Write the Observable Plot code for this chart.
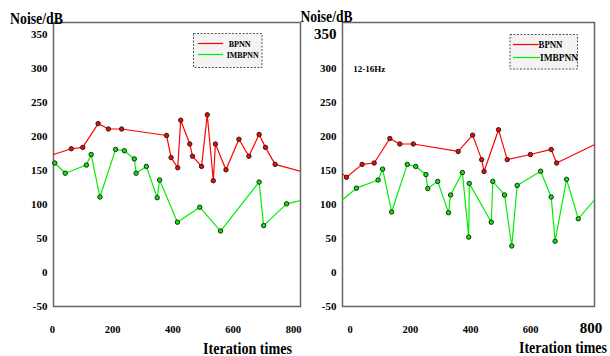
<!DOCTYPE html>
<html>
<head>
<meta charset="utf-8">
<script src="https://cdn.jsdelivr.net/npm/d3@7"></script>
<script src="https://cdn.jsdelivr.net/npm/@observablehq/plot@0.6"></script>
<style>
  html, body { margin: 0; padding: 0; background: #fff; }
  #wrap { position: relative; width: 610px; height: 356px; overflow: hidden; background: #fff; }
  #wrap svg.panel { position: absolute; top: 0; overflow: visible; }
  #overlay { position: absolute; left: 0; top: 0; pointer-events: none; }
</style>
</head>
<body>
<div id="wrap"></div>
<script>
// ---------- data ----------
const xTicks = [0, 200, 400, 600, 800];
const yTicks = [-50, 0, 50, 100, 150, 200, 250, 300, 350];
const seriesNames = ["BPNN", "IMBPNN"];
const seriesColors = ["#ff0000", "#00ee00"];

// left panel
const leftX_BPNN = [4, 63, 101, 152, 186, 230, 379, 394, 416, 426, 456, 465, 495, 514, 534, 541, 576, 619, 652, 686, 707, 739, 823];
const leftY_BPNN = [173.5, 182, 184, 219, 211, 211, 201.5, 169, 154, 224, 189, 171, 156, 232, 135, 189, 151, 196, 171, 203, 184, 159, 149];
const leftX_IMBPNN = [8, 43, 113, 129, 158, 210, 239, 272, 278, 312, 348, 356, 415, 489, 558, 686, 701, 777, 823];
const leftY_IMBPNN = [161, 146, 158, 173.5, 111, 181, 179, 167, 146, 156, 110, 136, 74, 96, 61, 133, 69, 101, 106];

// right panel (12-16Hz)
const rightX_BPNN = [-25, -12, 40, 80, 132, 165, 210, 359, 407, 437, 445, 493, 522, 599, 668, 686, 812];
const rightY_BPNN = [145, 140, 159, 161, 197, 189, 189, 178, 202, 166, 148.5, 210, 166, 173.5, 181, 161, 188];
const rightX_IMBPNN = [-25, 21, 93, 108, 138, 190, 218, 252, 258, 291, 327, 334, 373, 394, 396, 469, 474, 513, 537, 555, 633, 668, 681, 719, 758, 812];
const rightY_IMBPNN = [107, 124, 136, 152, 89, 159, 156, 144, 123.5, 134, 88, 114, 147, 52, 131, 74, 134, 114, 39, 128, 149, 111, 46, 137, 79, 107];

const rightNote = "12-16Hz";
const yLabel = "Noise/dB";
const xLabel = "Iteration times";

// ---------- drawing ----------
const FONT = "'Liberation Serif', 'Times New Roman', serif";
const W = 305, H = 356;

function toRows(xs, ys) { return xs.map((x, i) => ({x, y: ys[i]})); }

function panel(opts) {
  const {bp, im, xDomain, marginLeft, marginRight, bigY, bigX} = opts;
  const [lo, hi] = [xDomain[0] + 1, xDomain[1] - 1];
  const marked = d => d.x > lo && d.x < hi;
  const series = [bp, im];
  const marks = [Plot.frame({stroke: "#666", strokeWidth: 1.5})];
  series.forEach((s, k) => {
    marks.push(Plot.line(s, {x: "x", y: "y", stroke: seriesColors[k], strokeWidth: 1.2, clip: true}));
  });
  series.forEach((s, k) => {
    marks.push(Plot.dot(s.filter(marked), {x: "x", y: "y", r: 2.2, fill: seriesColors[k], stroke: "#222", strokeWidth: 1}));
  });
  marks.push(Plot.text(yTicks, {
    frameAnchor: "left", y: d => d, text: d => String(d), textAnchor: "end", dx: -6,
    fontSize: d => (bigY && d === 350 ? 15 : 11), fontWeight: "bold", fill: "#000"
  }));
  marks.push(Plot.text(xTicks, {
    x: d => d, frameAnchor: "bottom", text: d => String(d), dy: 26,
    fontSize: d => (bigX && d === 800 ? 15 : 10.5), fontWeight: "bold", fill: "#000"
  }));
  const svg = Plot.plot({
    width: W, height: H,
    marginTop: 22, marginBottom: 50, marginLeft, marginRight,
    x: {type: "linear", domain: xDomain, axis: null},
    y: {type: "linear", domain: [-50, 350], range: [306, 34], axis: null},
    style: {fontFamily: FONT, background: "transparent", overflow: "visible"},
    marks
  });
  svg.classList.add("panel");
  return svg;
}

const wrap = document.getElementById("wrap");
const left = panel({
  bp: toRows(leftX_BPNN, leftY_BPNN), im: toRows(leftX_IMBPNN, leftY_IMBPNN),
  xDomain: [4, 823.2], marginLeft: 53, marginRight: 5, bigY: false, bigX: false
});
left.style.left = "0px";
const right = panel({
  bp: toRows(rightX_BPNN, rightY_BPNN), im: toRows(rightX_IMBPNN, rightY_IMBPNN),
  xDomain: [-25.2, 811.8], marginLeft: 37, marginRight: 16, bigY: true, bigX: true
});
right.style.left = "305px";
wrap.appendChild(left);
wrap.appendChild(right);

// ---------- overlay: axis titles, note, legends ----------
const ov = d3.select(wrap).append("svg").attr("id", "overlay").attr("width", 610).attr("height", 356)
  .style("font-family", FONT).style("font-weight", "bold");

function label(x, y, txt, size, len) {
  const t = ov.append("text").attr("x", x).attr("y", y).attr("font-size", size).attr("fill", "#000").text(txt);
  if (len) t.attr("textLength", len).attr("lengthAdjust", "spacingAndGlyphs");
  return t;
}
label(10, 24, yLabel, 16, 53);
label(300.5, 22, yLabel, 16, 52);
label(203, 353.5, xLabel, 16, 89);
label(519, 353, xLabel, 16, 88);
label(353.3, 71.5, rightNote, 9, 32);

function legend(box, items) {
  ov.append("rect").attr("x", box.x).attr("y", box.y).attr("width", box.w).attr("height", box.h)
    .attr("fill", "#f3f3f3").attr("stroke", "#555").attr("stroke-width", 1).attr("stroke-dasharray", "2,1.5");
  items.forEach((it, k) => {
    ov.append("line").attr("x1", it.x1).attr("x2", it.x2).attr("y1", it.y).attr("y2", it.y)
      .attr("stroke", seriesColors[k]).attr("stroke-width", 1.2);
    label(it.tx, it.y + 3, seriesNames[k], it.fs, it.len);
  });
}
legend({x: 193.5, y: 33.5, w: 68.5, h: 34}, [
  {x1: 198, x2: 223, y: 43.5, tx: 228.7, fs: 8.5, len: 22},
  {x1: 198, x2: 223, y: 54.5, tx: 226.7, fs: 8.5, len: 32}
]);
legend({x: 510, y: 34.5, w: 67.5, h: 34.5}, [
  {x1: 513, x2: 538.5, y: 44.5, tx: 538.5, fs: 9.5, len: 24},
  {x1: 513, x2: 540, y: 57.5, tx: 540, fs: 9.5, len: 38}
]);
</script>
</body>
</html>
